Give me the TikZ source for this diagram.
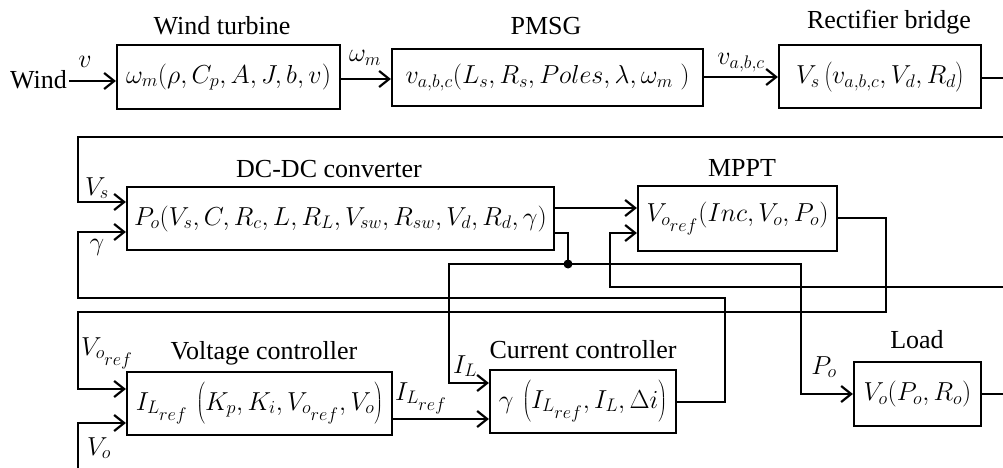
\RequirePackage{fix-cm}
\documentclass[tikz,border=0pt]{standalone}
\usepackage{fontspec}
\setmainfont{Liberation Serif}
\usetikzlibrary{arrows.meta}
\newcommand{\rf}{{\scriptstyle ref}}
\newcommand{\tallstrut}{\rule[-13pt]{0pt}{39pt}}
\newcommand{\midstrut}{\rule[-8pt]{0pt}{30pt}}
\tikzset{
  fnt/.style={font=\fontsize{26}{31}\selectfont},
  blk/.style 2 args={draw, line width=2.2pt, inner sep=1pt, fnt, minimum width=#1, minimum height=#2},
  ttl/.style={fnt, anchor=base, inner sep=0pt},
  lbl/.style={fnt, anchor=base, inner sep=0pt},
  wire/.style={line width=2.2pt},
  arr/.style={wire, -{Straight Barb[length=10pt,width=16pt]}},
  dot/.style={circle, fill, inner sep=0pt, minimum size=9pt}
}
\begin{document}
\begin{tikzpicture}[x=1pt,y=-1pt]
\useasboundingbox (0,0) rectangle (1003,468);
% blocks
\node[blk={223pt}{64pt}] (wt) at (228.5,77) {$\omega_m(\rho, C_p, A, J, b, v)$};
\node[blk={311pt}{57pt}] (pmsg) at (547.5,77.5) {$v_{a,b,c}(L_s, R_s, Poles, \lambda, \omega_m\;)$};
\node[blk={202pt}{63pt}] (rb) at (880,76.5) {$V_s\left(\midstrut v_{a,b,c}, V_d, R_d\right)$};
\node[blk={427pt}{63pt}] (dc) at (340.5,218.5) {$P_o(V_s, C, R_c, L, R_L, V_{sw}, R_{sw}, V_d, R_d, \gamma)$};
\node[blk={199pt}{65pt}] (mppt) at (737.5,218.5) {$V_{o_{\rf}}(Inc, V_o, P_o)$};
\node[blk={265pt}{63pt}] (vc) at (259.5,403.5) {$I_{L_{\rf}}\,\left(\tallstrut K_p, K_i, V_{o_{\rf}}, V_o\right)$};
\node[blk={186pt}{63pt}] (cc) at (583,401.5) {$\gamma\,\left(\tallstrut I_{L_{\rf}}, I_L, \Delta i\right)$};
\node[blk={127pt}{64pt}] (load) at (917.5,394) {$V_o(P_o, R_o)$};
% titles
\node[ttl] (twt) at (222,35) {Wind turbine};
\node[ttl] (tpmsg) at (546,35) {PMSG};
\node[ttl] (trb) at (889,29) {Rectifier bridge};
\node[ttl] (tdc) at (329,177) {DC-DC converter};
\node[ttl] (tmppt) at (742,176) {MPPT};
\node[ttl] (tvc) at (264,359) {Voltage controller};
\node[ttl] (tcc) at (583,358) {Current controller};
\node[ttl] (tload) at (917,348) {Load};
% input text
\node[fnt, inner sep=2pt] (wind) at (38.5,80) {Wind};
% free ends
\coordinate (rbout) at (1003,78);
\coordinate (vsin) at (1003,137);
\coordinate (voin) at (1003,287);
\coordinate (voout) at (1003,394);
\coordinate (vobot) at (78,470);
\node[dot] (jn) at (568,264) {};
% connectors
\draw[arr] (wind.east |- 0,81) -- (wt.west |- 0,81);
\draw[arr] (wt.east |- 0,79) -- (pmsg.west |- 0,79);
\draw[arr] (pmsg.east |- 0,77) -- (rb.west |- 0,77);
\draw[wire] (rb.east |- rbout) -- (rbout);
\draw[arr] (vsin) -| (78,202) -- (dc.west |- 0,202);
\draw[arr] (dc.east |- 0,208) -- (mppt.west |- 0,208);
\draw[wire] (dc.east |- 0,233) -| (jn.center);
\draw[arr] (jn.center) -- (449,264) |- (cc.west |- 0,383);
\draw[arr] (jn.center) -| (801,394) -- (load.west);
\draw[arr] (voin) -| (610,233) -- (mppt.west |- 0,233);
\draw[arr] (mppt.east |- 0,218) -| (886,312) -| (78,389) -- (vc.west |- 0,389);
\draw[arr] (cc.east |- 0,402) -| (725,298) -| (78,232) -- (dc.west |- 0,232);
\draw[arr] (vc.east |- 0,419) -- (cc.west |- 0,419);
\draw[wire] (load.east) -- (voout);
\draw[arr] (vobot) |- (vc.west |- 0,423);
% signal labels
\node[lbl] (lv) at (85,68) {$v$};
\node[lbl] (lwm) at (365,62) {$\omega_m$};
\node[lbl] (lvabc) at (741,65) {$v_{a,b,c}$};
\node[lbl] (lvs) at (97,195) {$V_s$};
\node[lbl] (lg) at (97,250) {$\gamma$};
\node[lbl] (lvoref) at (107,355) {$V_{o_{\rf}}$};
\node[lbl] (lvo) at (99,455) {$V_o$};
\node[lbl] (lilref) at (421,400) {$I_{L_{\rf}}$};
\node[lbl] (lil) at (465,373) {$I_L$};
\node[lbl] (lpo) at (824,374) {$P_o$};
\end{tikzpicture}
\end{document}
